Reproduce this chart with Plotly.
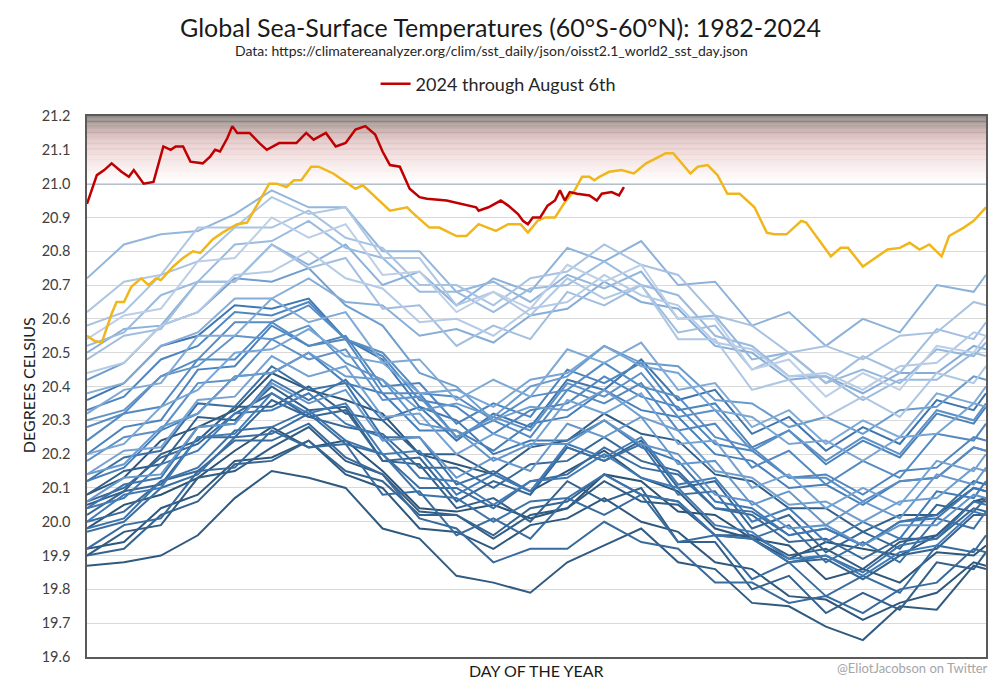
import plotly.graph_objects as go

# ---------------- DATA ----------------
days = [1, 16, 31, 46, 61, 76, 91, 106, 121, 136, 151, 166, 181, 196, 211, 226, 241, 256, 271, 286, 301, 316, 331, 346, 361, 366]

t1982 = [19.98, 20.05, 20.08, 20.13, 20.21, 20.28, 20.22, 20.24, 20.15, 20.04, 20.03, 20.05, 20.01, 20.04, 20.14, 20.12, 20.03, 20.02, 19.95, 19.89, 19.94, 19.92, 19.90, 19.96, 20.06, 20.07]
t1983 = [20.08, 20.13, 20.24, 20.28, 20.33, 20.44, 20.39, 20.36, 20.32, 20.20, 20.17, 20.14, 20.09, 20.15, 20.21, 20.13, 20.09, 19.98, 19.95, 19.93, 19.83, 19.86, 19.82, 19.91, 19.90, 19.93]
t1984 = [19.92, 19.94, 20.04, 20.08, 20.18, 20.19, 20.24, 20.14, 20.10, 19.98, 19.97, 19.92, 19.99, 20.01, 20.07, 20.00, 19.97, 19.88, 19.86, 19.78, 19.77, 19.71, 19.76, 19.79, 19.88, 19.87]
t1985 = [19.87, 19.88, 19.90, 19.96, 20.07, 20.15, 20.13, 20.10, 19.98, 19.95, 19.84, 19.82, 19.79, 19.88, 19.93, 19.98, 19.88, 19.86, 19.76, 19.75, 19.69, 19.65, 19.75, 19.74, 19.87, 19.86]
t1986 = [19.90, 19.97, 19.99, 20.13, 20.15, 20.22, 20.28, 20.18, 20.14, 20.03, 20.02, 19.95, 20.02, 20.04, 20.12, 20.06, 20.05, 19.96, 19.96, 19.90, 19.92, 19.86, 19.94, 19.96, 20.06, 20.06]
t1987 = [20.05, 20.09, 20.20, 20.24, 20.34, 20.34, 20.40, 20.32, 20.30, 20.20, 20.20, 20.14, 20.22, 20.24, 20.32, 20.26, 20.24, 20.14, 20.12, 20.04, 20.04, 19.97, 20.02, 20.02, 20.10, 20.09]
t1988 = [20.08, 20.15, 20.17, 20.31, 20.30, 20.40, 20.33, 20.34, 20.18, 20.17, 20.04, 20.07, 20.00, 20.12, 20.06, 20.10, 19.94, 19.94, 19.80, 19.84, 19.73, 19.79, 19.74, 19.88, 19.86, 19.91]
t1989 = [19.90, 19.92, 20.02, 20.06, 20.17, 20.18, 20.24, 20.15, 20.12, 20.02, 20.02, 19.96, 20.04, 20.06, 20.14, 20.08, 20.06, 19.96, 19.95, 19.88, 19.89, 19.83, 19.90, 19.92, 20.02, 20.02]
t1990 = [20.02, 20.09, 20.11, 20.25, 20.25, 20.36, 20.31, 20.33, 20.18, 20.19, 20.06, 20.12, 20.08, 20.22, 20.18, 20.24, 20.10, 20.12, 19.98, 20.02, 19.91, 19.97, 19.92, 20.05, 20.03, 20.07]
t1991 = [20.06, 20.10, 20.19, 20.23, 20.32, 20.38, 20.31, 20.28, 20.26, 20.16, 20.16, 20.10, 20.17, 20.18, 20.25, 20.18, 20.15, 20.04, 20.02, 19.94, 19.95, 19.89, 19.95, 19.95, 20.04, 20.03]
t1992 = [20.00, 20.03, 20.12, 20.15, 20.24, 20.24, 20.29, 20.19, 20.14, 20.01, 19.98, 19.88, 19.92, 19.92, 20.00, 19.94, 19.92, 19.82, 19.82, 19.76, 19.78, 19.73, 19.80, 19.82, 19.92, 19.91]
t1993 = [19.92, 19.99, 20.01, 20.15, 20.16, 20.27, 20.22, 20.23, 20.08, 20.09, 19.96, 20.01, 19.95, 20.07, 20.02, 20.08, 19.94, 19.96, 19.83, 19.88, 19.78, 19.84, 19.79, 19.93, 19.91, 19.96]
t1994 = [19.97, 20.00, 20.10, 20.14, 20.25, 20.26, 20.32, 20.23, 20.20, 20.10, 20.10, 20.04, 20.12, 20.14, 20.22, 20.16, 20.14, 20.04, 20.03, 19.96, 19.98, 19.93, 20.00, 20.02, 20.12, 20.11]
t1995 = [20.12, 20.19, 20.21, 20.35, 20.34, 20.46, 20.39, 20.41, 20.25, 20.25, 20.11, 20.15, 20.09, 20.22, 20.18, 20.23, 20.08, 20.09, 19.95, 19.99, 19.88, 19.94, 19.88, 20.01, 19.98, 20.03]
t1996 = [19.98, 20.01, 20.12, 20.16, 20.27, 20.28, 20.33, 20.24, 20.20, 20.08, 20.07, 20.00, 20.06, 20.07, 20.14, 20.08, 20.06, 19.96, 19.95, 19.88, 19.90, 19.85, 19.93, 19.95, 20.06, 20.05]
t1997 = [20.04, 20.11, 20.13, 20.28, 20.29, 20.42, 20.36, 20.42, 20.30, 20.34, 20.24, 20.32, 20.28, 20.42, 20.39, 20.48, 20.36, 20.39, 20.26, 20.31, 20.21, 20.28, 20.23, 20.36, 20.33, 20.38]
t1998 = [20.36, 20.41, 20.52, 20.55, 20.64, 20.63, 20.66, 20.54, 20.48, 20.34, 20.30, 20.20, 20.24, 20.24, 20.30, 20.22, 20.18, 20.06, 20.04, 19.96, 19.98, 19.93, 20.00, 20.01, 20.10, 20.09]
t1999 = [20.04, 20.07, 20.17, 20.21, 20.32, 20.33, 20.38, 20.29, 20.25, 20.13, 20.12, 20.05, 20.12, 20.13, 20.20, 20.13, 20.10, 19.99, 19.97, 19.89, 19.90, 19.84, 19.91, 19.93, 20.03, 20.02]
t2000 = [20.00, 20.08, 20.10, 20.25, 20.26, 20.38, 20.32, 20.35, 20.20, 20.21, 20.08, 20.14, 20.09, 20.23, 20.19, 20.25, 20.11, 20.13, 20.00, 20.04, 19.94, 20.00, 19.95, 20.09, 20.07, 20.12]
t2001 = [20.12, 20.16, 20.27, 20.32, 20.43, 20.44, 20.50, 20.41, 20.38, 20.27, 20.27, 20.21, 20.29, 20.31, 20.39, 20.33, 20.31, 20.20, 20.18, 20.10, 20.11, 20.05, 20.12, 20.13, 20.22, 20.21]
t2002 = [20.20, 20.28, 20.30, 20.45, 20.46, 20.58, 20.52, 20.55, 20.40, 20.41, 20.29, 20.35, 20.31, 20.45, 20.41, 20.47, 20.33, 20.35, 20.22, 20.27, 20.17, 20.24, 20.19, 20.32, 20.29, 20.34]
t2003 = [20.33, 20.37, 20.48, 20.52, 20.62, 20.61, 20.65, 20.54, 20.49, 20.36, 20.34, 20.26, 20.33, 20.35, 20.43, 20.37, 20.34, 20.23, 20.21, 20.13, 20.14, 20.08, 20.15, 20.16, 20.25, 20.24]
t2004 = [20.24, 20.32, 20.34, 20.48, 20.48, 20.59, 20.52, 20.54, 20.38, 20.38, 20.25, 20.30, 20.25, 20.39, 20.35, 20.41, 20.27, 20.29, 20.16, 20.21, 20.11, 20.18, 20.13, 20.26, 20.24, 20.29]
t2005 = [20.28, 20.32, 20.43, 20.48, 20.59, 20.59, 20.64, 20.54, 20.50, 20.38, 20.37, 20.30, 20.37, 20.39, 20.47, 20.40, 20.37, 20.25, 20.22, 20.13, 20.13, 20.06, 20.12, 20.13, 20.22, 20.21]
t2006 = [20.18, 20.25, 20.27, 20.41, 20.42, 20.54, 20.48, 20.51, 20.36, 20.37, 20.25, 20.31, 20.27, 20.41, 20.37, 20.44, 20.31, 20.33, 20.21, 20.27, 20.18, 20.25, 20.20, 20.33, 20.30, 20.35]
t2007 = [20.30, 20.33, 20.43, 20.46, 20.55, 20.54, 20.58, 20.47, 20.42, 20.29, 20.27, 20.18, 20.23, 20.23, 20.30, 20.23, 20.20, 20.08, 20.06, 19.98, 19.99, 19.93, 19.99, 19.99, 20.08, 20.07]
t2008 = [20.06, 20.13, 20.14, 20.28, 20.29, 20.41, 20.35, 20.39, 20.24, 20.25, 20.13, 20.19, 20.15, 20.29, 20.25, 20.31, 20.17, 20.18, 20.05, 20.09, 19.99, 20.06, 20.01, 20.14, 20.11, 20.16]
t2009 = [20.14, 20.17, 20.28, 20.32, 20.43, 20.44, 20.50, 20.43, 20.42, 20.33, 20.35, 20.31, 20.40, 20.43, 20.52, 20.47, 20.46, 20.36, 20.35, 20.28, 20.31, 20.26, 20.33, 20.34, 20.43, 20.42]
t2010 = [20.42, 20.47, 20.58, 20.62, 20.72, 20.71, 20.75, 20.64, 20.58, 20.44, 20.40, 20.30, 20.34, 20.33, 20.39, 20.31, 20.27, 20.15, 20.13, 20.05, 20.06, 20.00, 20.06, 20.07, 20.16, 20.15]
t2011 = [20.14, 20.21, 20.22, 20.36, 20.37, 20.49, 20.43, 20.46, 20.31, 20.32, 20.20, 20.26, 20.22, 20.36, 20.32, 20.38, 20.23, 20.24, 20.10, 20.14, 20.04, 20.10, 20.05, 20.18, 20.15, 20.20]
t2012 = [20.20, 20.23, 20.34, 20.39, 20.50, 20.51, 20.57, 20.49, 20.47, 20.38, 20.39, 20.34, 20.42, 20.44, 20.52, 20.46, 20.44, 20.33, 20.31, 20.23, 20.24, 20.18, 20.25, 20.26, 20.35, 20.34]
t2013 = [20.32, 20.39, 20.41, 20.55, 20.55, 20.66, 20.59, 20.62, 20.47, 20.48, 20.36, 20.42, 20.37, 20.51, 20.47, 20.53, 20.39, 20.41, 20.28, 20.33, 20.23, 20.30, 20.25, 20.38, 20.35, 20.40]
t2014 = [20.38, 20.41, 20.52, 20.56, 20.66, 20.66, 20.72, 20.65, 20.64, 20.55, 20.57, 20.53, 20.61, 20.63, 20.71, 20.65, 20.63, 20.52, 20.50, 20.42, 20.43, 20.38, 20.44, 20.44, 20.52, 20.51]
t2015 = [20.50, 20.57, 20.58, 20.71, 20.71, 20.82, 20.76, 20.82, 20.70, 20.74, 20.64, 20.72, 20.68, 20.81, 20.77, 20.83, 20.70, 20.71, 20.58, 20.62, 20.52, 20.60, 20.56, 20.70, 20.68, 20.73]
t2016 = [20.72, 20.82, 20.85, 20.86, 20.91, 20.98, 20.93, 20.93, 20.80, 20.80, 20.68, 20.71, 20.65, 20.73, 20.69, 20.74, 20.60, 20.61, 20.48, 20.50, 20.41, 20.45, 20.41, 20.51, 20.49, 20.53]
t2017 = [20.52, 20.56, 20.67, 20.71, 20.82, 20.83, 20.89, 20.81, 20.78, 20.68, 20.68, 20.62, 20.69, 20.70, 20.77, 20.70, 20.67, 20.55, 20.52, 20.43, 20.43, 20.36, 20.42, 20.42, 20.50, 20.49]
t2018 = [20.48, 20.55, 20.57, 20.71, 20.71, 20.82, 20.75, 20.78, 20.63, 20.64, 20.52, 20.58, 20.54, 20.68, 20.64, 20.70, 20.56, 20.58, 20.45, 20.50, 20.41, 20.49, 20.44, 20.57, 20.54, 20.59]
t2019 = [20.58, 20.62, 20.73, 20.77, 20.87, 20.87, 20.92, 20.84, 20.81, 20.70, 20.70, 20.64, 20.72, 20.74, 20.82, 20.76, 20.73, 20.61, 20.58, 20.50, 20.52, 20.48, 20.55, 20.56, 20.65, 20.64]
t2020 = [20.62, 20.71, 20.73, 20.87, 20.87, 20.96, 20.91, 20.93, 20.78, 20.78, 20.64, 20.68, 20.61, 20.72, 20.66, 20.70, 20.54, 20.54, 20.39, 20.42, 20.31, 20.37, 20.31, 20.44, 20.41, 20.46]
t2021 = [20.44, 20.47, 20.58, 20.62, 20.73, 20.74, 20.80, 20.72, 20.69, 20.59, 20.60, 20.55, 20.63, 20.65, 20.73, 20.67, 20.64, 20.53, 20.51, 20.43, 20.44, 20.39, 20.46, 20.47, 20.56, 20.55]
t2022 = [20.54, 20.61, 20.63, 20.77, 20.78, 20.90, 20.84, 20.88, 20.73, 20.74, 20.62, 20.68, 20.63, 20.76, 20.71, 20.76, 20.60, 20.60, 20.45, 20.48, 20.37, 20.44, 20.39, 20.52, 20.50, 20.55]

blue_years = list(range(1982, 2023))
blue_series = [t1982, t1983, t1984, t1985, t1986, t1987, t1988, t1989, t1990, t1991,
               t1992, t1993, t1994, t1995, t1996, t1997, t1998, t1999, t2000, t2001,
               t2002, t2003, t2004, t2005, t2006, t2007, t2008, t2009, t2010, t2011,
               t2012, t2013, t2014, t2015, t2016, t2017, t2018, t2019, t2020, t2021, t2022]

days_2023 = [1, 4, 7, 11, 13, 16, 19, 23, 26, 29, 31, 36, 40, 44, 47, 52, 56, 62, 66, 70, 75, 78, 82, 85, 88, 92, 95,
             101, 106, 110, 113, 118, 124, 131, 133, 140, 144, 151, 155, 160, 167, 172, 177, 180, 184, 187, 191, 195,
             199, 202, 205, 207, 209, 213, 218, 223, 228, 232, 236, 239, 242, 246, 249, 253, 257, 261, 266, 272, 277,
             280, 285, 291, 293, 298, 303, 307, 310, 316, 322, 326, 331, 335, 339, 343, 348, 351, 357, 361, 366]
vals_2023 = [20.55, 20.535, 20.53, 20.615, 20.65, 20.65, 20.695, 20.72, 20.70, 20.72, 20.715, 20.755, 20.78, 20.80, 20.795,
             20.835, 20.855, 20.88, 20.885, 20.935, 21.0, 21.0, 20.99, 21.01, 21.01, 21.05, 21.05,
             21.03, 21.005, 20.985, 20.995, 20.96, 20.92, 20.93, 20.915, 20.87, 20.87, 20.845, 20.845, 20.88, 20.86,
             20.88, 20.88, 20.855, 20.89, 20.90, 20.90, 20.945, 20.98, 21.02, 21.02, 21.01, 21.02, 21.035, 21.04,
             21.03, 21.06, 21.075, 21.09, 21.09, 21.065, 21.03, 21.05, 21.055, 21.025, 20.97, 20.97, 20.93, 20.855,
             20.85, 20.85, 20.89, 20.885, 20.835, 20.785, 20.81, 20.81, 20.755, 20.785, 20.805, 20.81, 20.825,
             20.805, 20.82, 20.785, 20.845, 20.87, 20.89, 20.93]

days_2024 = [1, 5, 8, 11, 15, 18, 20, 24, 28, 32, 35, 37, 40, 43, 48, 51, 53, 55, 58, 60, 62, 67, 71, 74, 79, 86, 90,
             93, 98, 102, 106, 110, 114, 118, 121, 124, 128, 132, 136, 139, 147, 153, 159, 160, 164, 169, 172, 176,
             178, 180, 182, 185, 188, 191, 193, 195, 197, 200, 205, 208, 210, 214, 217, 219]
vals_2024 = [20.94, 21.025, 21.04, 21.06, 21.035, 21.02, 21.04, 21.0, 21.005, 21.11, 21.10, 21.11, 21.11, 21.065, 21.06,
             21.08, 21.10, 21.095, 21.135, 21.17, 21.15, 21.15, 21.12, 21.10, 21.12, 21.12, 21.15,
             21.13, 21.15, 21.11, 21.12, 21.16, 21.17, 21.145, 21.095, 21.055, 21.05, 20.985, 20.96, 20.955, 20.95,
             20.94, 20.93, 20.92, 20.93, 20.95, 20.935, 20.91, 20.89, 20.88, 20.90, 20.90, 20.935, 20.95, 20.98,
             20.95, 20.975, 20.97, 20.965, 20.95, 20.97, 20.975, 20.965, 20.99]

y_ticks = [19.6, 19.7, 19.8, 19.9, 20.0, 20.1, 20.2, 20.3, 20.4, 20.5, 20.6, 20.7, 20.8, 20.9, 21.0, 21.1, 21.2]

# ---------------- STYLE ----------------
def lerp_color(stops, t):
    for i in range(len(stops) - 1):
        t0, c0 = stops[i]
        t1, c1 = stops[i + 1]
        if t0 <= t <= t1:
            f = (t - t0) / (t1 - t0) if t1 > t0 else 0
            return "rgb(%d,%d,%d)" % tuple(round(c0[k] + (c1[k] - c0[k]) * f) for k in range(3))
    return "rgb(%d,%d,%d)" % stops[-1][1]

blue_stops = [(0.0, (44, 84, 118)), (0.45, (66, 124, 184)), (0.75, (120, 165, 212)), (1.0, (188, 207, 231))]

FONT = "Lato"
# page has an 8px body margin; page pixel -> figure geometry
PT, PB, PL, PR = 116, 657, 87, 988           # plot area in page pixels
PH, PW = PB - PT, PR - PL

def py(page_y):
    return (PB - page_y) / PH

def px(page_x):
    return (page_x - PL) / PW

fig = go.Figure()

n = len(blue_series)
for i, (yr, vals) in enumerate(zip(blue_years, blue_series)):
    fig.add_trace(go.Scatter(
        x=days, y=vals, mode="lines", name=str(yr), showlegend=False,
        line=dict(color=lerp_color(blue_stops, i / (n - 1)), width=2),
        hoverinfo="skip"))

fig.add_trace(go.Scatter(x=days_2023, y=vals_2023, mode="lines", name="2023", showlegend=False,
                         line=dict(color="#efb71c", width=2.5)))
fig.add_trace(go.Scatter(x=days_2024, y=vals_2024, mode="lines", name="2024 through August 6th",
                         showlegend=True, line=dict(color="#c00000", width=2.5)))

# gradient band 21.0 - 21.2
grad_stops = [(0.0, (120, 113, 108)), (0.1, (150, 135, 131)), (0.22, (192, 164, 162)), (0.38, (225, 194, 194)),
              (0.6, (241, 219, 219)), (0.82, (250, 240, 240)), (1.0, (255, 255, 255))]
nb = 80
shapes = []
for k in range(nb):
    y1 = 21.2 - 0.2 * k / nb
    y0 = 21.2 - 0.2 * (k + 1) / nb
    shapes.append(dict(type="rect", xref="paper", yref="y", x0=0, x1=1, y0=y0, y1=y1,
                       fillcolor=lerp_color(grad_stops, (k + 0.5) / nb), line=dict(width=0), layer="below"))
shapes.append(dict(type="line", xref="paper", yref="y", x0=0, x1=1, y0=21.0, y1=21.0,
                   line=dict(color="#6c8196", width=1.5), layer="between"))
fig.update_layout(shapes=shapes)

fig.update_layout(
    width=992, height=682,
    margin=dict(l=PL - 8, r=992 - (PR - 8), t=PT - 8, b=682 - (PB - 8)),
    paper_bgcolor="white", plot_bgcolor="white",
    font=dict(family=FONT, color="#262626"),
    xaxis=dict(range=[1, 366], showticklabels=False, ticks="", showgrid=False, zeroline=False,
               showline=True, linecolor="#5a5a5a", linewidth=1.5, mirror=True),
    yaxis=dict(range=[19.6, 21.2], tickvals=y_ticks, tickformat=".1f", showgrid=True,
               gridcolor="#d9d9d9", gridwidth=1, zeroline=False, ticks="",
               tickfont=dict(size=14.5, color="#404040", family=FONT), ticklabelstandoff=12,
               showline=True, linecolor="#5a5a5a", linewidth=1.5, mirror=True),
    legend=dict(orientation="h", x=px(499), xanchor="center", y=py(84), yanchor="middle",
                font=dict(size=18, color="#262626", family=FONT), bgcolor="rgba(0,0,0,0)",
                itemwidth=30, tracegroupgap=0),
    annotations=[
        dict(text="Global Sea-Surface Temperatures (60°S-60°N): 1982-2024", xref="paper", yref="paper",
             x=px(501.5), y=py(27), xanchor="center", yanchor="middle", showarrow=False,
             font=dict(size=25, color="#1a1a1a", family=FONT)),
        dict(text="Data: https://climatereanalyzer.org/clim/sst_daily/json/oisst2.1_world2_sst_day.json",
             xref="paper", yref="paper", x=px(492), y=py(50), xanchor="center", yanchor="middle",
             showarrow=False, font=dict(size=14, color="#262626", family=FONT)),
        dict(text="DEGREES CELSIUS", xref="paper", yref="paper", x=px(28), y=py(385),
             xanchor="center", yanchor="middle", textangle=-90, showarrow=False,
             font=dict(size=16, color="#1a1a1a", family=FONT)),
        dict(text="DAY OF THE YEAR", xref="paper", yref="paper", x=px(538), y=py(670),
             xanchor="center", yanchor="middle", showarrow=False,
             font=dict(size=16, color="#1a1a1a", family=FONT)),
        dict(text="@EliotJacobson on Twitter", xref="paper", yref="paper", x=px(992),
             y=py(668), xanchor="right", yanchor="middle", showarrow=False,
             font=dict(size=13, color="#a6a6a6", family=FONT)),
    ],
)

fig.write_html("out.html")
